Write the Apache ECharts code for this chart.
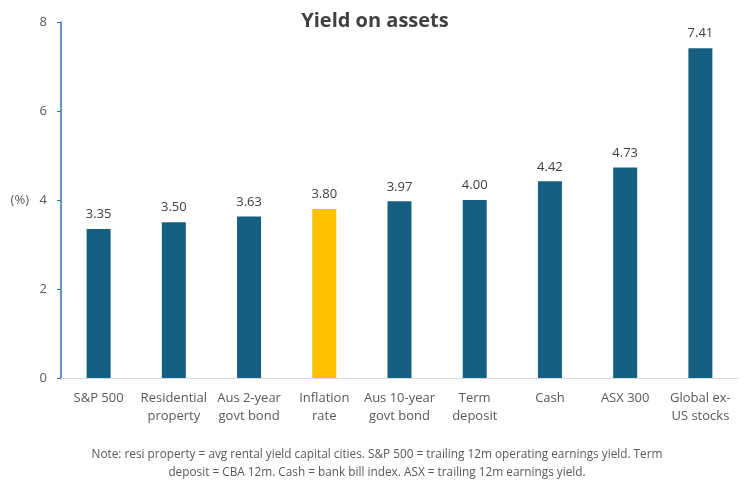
<!DOCTYPE html>
<html><head><meta charset="utf-8">
<script src="https://cdn.jsdelivr.net/npm/echarts@6/dist/echarts.min.js"></script>
<style>html,body{margin:0;padding:0;background:#fff}#c{width:750px;height:486px}</style>
</head><body><div id="c"></div>
<script>
const categories = ["S&P 500","Residential\nproperty","Aus 2-year\ngovt bond","Inflation\nrate","Aus 10-year\ngovt bond","Term\ndeposit","Cash","ASX 300","Global ex-\nUS stocks"];
const values = [3.35,3.50,3.63,3.80,3.97,4.00,4.42,4.73,7.41];
const highlightIndex = 3;
const yTicks = [0,2,4,6,8];
const titleText = "Yield on assets";
const noteText = "Note: resi property = avg rental yield capital cities. S&P 500 = trailing 12m operating earnings yield. Term\ndeposit = CBA 12m. Cash = bank bill index. ASX = trailing 12m earnings yield.";

const FONT = '"Open Sans", sans-serif';
const chart = echarts.init(document.getElementById('c'));
chart.setOption({
  animation:false,
  textStyle:{fontFamily:FONT},
  title:{text:titleText,left:'center',top:6,textStyle:{fontSize:20,fontWeight:'bold',color:'#404040',fontFamily:FONT}},
  graphic:[{type:'text',x:377,y:446,style:{text:noteText,fontSize:11.8,fontFamily:FONT,fill:'#595959',lineHeight:18,align:'center',verticalAlign:'top'}}],
  grid:{left:61,right:12,top:22,bottom:108,containLabel:false},
  xAxis:{type:'category',data:categories,
    axisLine:{lineStyle:{color:'#d9d9d9',width:1}},axisTick:{show:false},
    axisLabel:{color:'#595959',fontSize:13,lineHeight:18,margin:11,interval:0}},
  yAxis:{type:'value',min:0,max:8,interval:2,name:'(%)',nameLocation:'middle',nameRotate:0,nameGap:32,
    nameTextStyle:{color:'#595959',fontSize:13},
    axisLine:{show:true,lineStyle:{color:'#2e75b6',width:1.5}},
    axisTick:{show:true,length:4,lineStyle:{color:'#2e75b6'}},
    splitLine:{show:false},
    axisLabel:{color:'#595959',fontSize:13,margin:14,formatter:v=>yTicks.includes(v)?String(v):''}},
  series:[{type:'bar',barWidth:24,
    data:values.map((v,i)=>({value:v,itemStyle:{color:i===highlightIndex?'#ffc000':'#156082'}})),
    label:{show:true,position:'top',distance:8,color:'#404040',fontSize:13,formatter:p=>p.value.toFixed(2)}}]
});
</script></body></html>
